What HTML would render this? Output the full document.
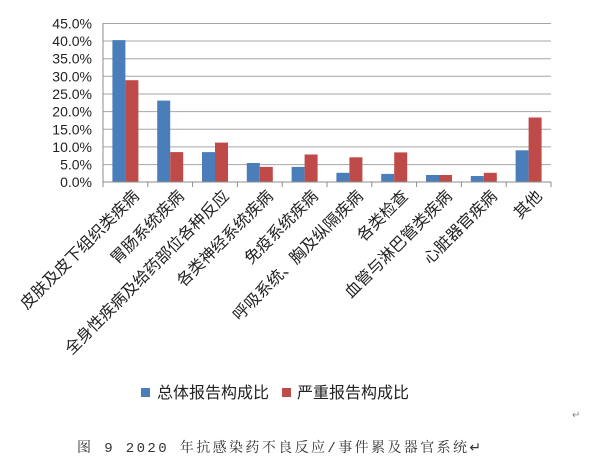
<!DOCTYPE html>
<html><head><meta charset="utf-8"><style>
html,body{margin:0;padding:0;background:#fff;}
svg{display:block;}
</style></head><body>
<svg width="600" height="467" xmlns="http://www.w3.org/2000/svg" font-family="'Liberation Sans','Noto Sans CJK SC',sans-serif">
<g stroke="#a6a6a6" stroke-width="1">
<line x1="103" y1="23.5" x2="551" y2="23.5"/>
<line x1="103" y1="41" x2="551" y2="41"/>
<line x1="103" y1="58.7" x2="551" y2="58.7"/>
<line x1="103" y1="76.3" x2="551" y2="76.3"/>
<line x1="103" y1="94" x2="551" y2="94"/>
<line x1="103" y1="111.6" x2="551" y2="111.6"/>
<line x1="103" y1="129.3" x2="551" y2="129.3"/>
<line x1="103" y1="146.9" x2="551" y2="146.9"/>
<line x1="103" y1="164.6" x2="551" y2="164.6"/>
</g>
<g font-size="14" fill="#222" text-anchor="end">
<text x="92" y="28.5">45.0%</text>
<text x="92" y="46">40.0%</text>
<text x="92" y="63.7">35.0%</text>
<text x="92" y="81.3">30.0%</text>
<text x="92" y="99">25.0%</text>
<text x="92" y="116.6">20.0%</text>
<text x="92" y="134.3">15.0%</text>
<text x="92" y="151.9">10.0%</text>
<text x="92" y="169.6">5.0%</text>
<text x="92" y="187">0.0%</text>
</g>
<g fill="#4a7ebb">
<rect x="112.4" y="40.1" width="13" height="141.9"/>
<rect x="157.2" y="100.6" width="13" height="81.4"/>
<rect x="202" y="152.1" width="13" height="29.9"/>
<rect x="246.8" y="163" width="13" height="19"/>
<rect x="291.6" y="166.9" width="13" height="15.1"/>
<rect x="336.4" y="172.8" width="13" height="9.2"/>
<rect x="381.2" y="173.9" width="13" height="8.1"/>
<rect x="426" y="175" width="13" height="7"/>
<rect x="470.8" y="176" width="13" height="6"/>
<rect x="515.6" y="150.3" width="13" height="31.7"/>
</g>
<g fill="#be4b48">
<rect x="125.4" y="80.2" width="13" height="101.8"/>
<rect x="170.2" y="152.1" width="13" height="29.9"/>
<rect x="215" y="142.6" width="13" height="39.4"/>
<rect x="259.8" y="166.9" width="13" height="15.1"/>
<rect x="304.6" y="154.5" width="13" height="27.5"/>
<rect x="349.4" y="157.3" width="13" height="24.7"/>
<rect x="394.2" y="152.4" width="13" height="29.6"/>
<rect x="439" y="175" width="13" height="7"/>
<rect x="483.8" y="172.8" width="13" height="9.2"/>
<rect x="528.6" y="117.5" width="13" height="64.5"/>
</g>
<g stroke="#8c8c8c" stroke-width="1">
<line x1="103" y1="23" x2="103" y2="182"/>
<line x1="103" y1="182" x2="551" y2="182"/>
<line x1="103" y1="182" x2="103" y2="187"/><line x1="147.8" y1="182" x2="147.8" y2="187"/><line x1="192.6" y1="182" x2="192.6" y2="187"/><line x1="237.4" y1="182" x2="237.4" y2="187"/><line x1="282.2" y1="182" x2="282.2" y2="187"/><line x1="327" y1="182" x2="327" y2="187"/><line x1="371.8" y1="182" x2="371.8" y2="187"/><line x1="416.6" y1="182" x2="416.6" y2="187"/><line x1="461.4" y1="182" x2="461.4" y2="187"/><line x1="506.2" y1="182" x2="506.2" y2="187"/><line x1="551" y1="182" x2="551" y2="187"/>
</g>
<g font-size="16" fill="#222" text-anchor="end">
<text transform="translate(140,197) rotate(-45)">皮肤及皮下组织类疾病</text>
<text transform="translate(185,197) rotate(-45)">胃肠系统疾病</text>
<text transform="translate(230,197) rotate(-45)">全身性疾病及给药部位各种反应</text>
<text transform="translate(274,197) rotate(-45)">各类神经系统疾病</text>
<text transform="translate(319,197) rotate(-45)">免疫系统疾病</text>
<text transform="translate(364,197) rotate(-45)">呼吸系统、胸及纵隔疾病</text>
<text transform="translate(409,197) rotate(-45)">各类检查</text>
<text transform="translate(453,197) rotate(-45)">血管与淋巴管类疾病</text>
<text transform="translate(498,197) rotate(-45)">心脏器官疾病</text>
<text transform="translate(543,197) rotate(-45)">其他</text>
</g>
<rect x="141" y="388" width="9" height="9" fill="#4a7ebb"/>
<text x="157" y="398" font-size="16" fill="#222">总体报告构成比</text>
<rect x="282" y="388" width="9" height="9" fill="#be4b48"/>
<text x="297" y="398" font-size="16" fill="#222">严重报告构成比</text>
<text x="572" y="418" font-size="10" fill="#888">↵</text>
<text x="77" y="452" font-size="14" fill="#333" letter-spacing="2.4" font-family="'Liberation Mono','Noto Serif CJK SC',serif">图 9  2020 年抗感染药不良反应/事件累及器官系统↵</text>
</svg>
</body></html>
